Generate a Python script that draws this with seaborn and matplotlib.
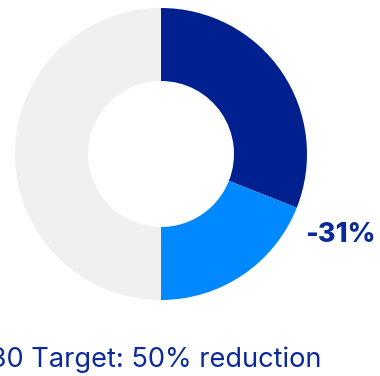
import matplotlib
matplotlib.use("Agg")
import matplotlib.pyplot as plt
import seaborn as sns

sns.set_theme(style="white")
plt.rcParams['font.family'] = ['Inter', 'DejaVu Sans']

labels = ["Reduced so far", "Remaining to target", "Rest"]
values = [31, 19, 50]
colors = ["#00208F", "#0088FF", "#F0F0F0"]
headline = "-31%"
caption = "2030 Target: 50% reduction"

W, H = 380, 376
fig = plt.figure(figsize=(W / 100, H / 100), dpi=100)
fig.patch.set_facecolor("white")

cx, cy, r = 161, 154, 146
ax = fig.add_axes([(cx - r) / W, (H - cy - r) / H, 2 * r / W, 2 * r / H])
ax.pie(values, colors=colors, startangle=90, counterclock=False, radius=1,
       wedgeprops=dict(width=0.5, linewidth=0))
ax.set_xlim(-1, 1)
ax.set_ylim(-1, 1)
ax.set_aspect("equal")
ax.axis("off")

fig.text(376 / W, 1 - 242 / H, headline, ha="right", va="baseline",
         fontsize=19.5, fontweight="heavy", color="#0A2A9A")
fig.text(322 / W, 1 - 367 / H, caption, ha="right", va="baseline",
         fontsize=19.6, color="#0A2A9A")

fig.savefig("out.png", dpi=100)
